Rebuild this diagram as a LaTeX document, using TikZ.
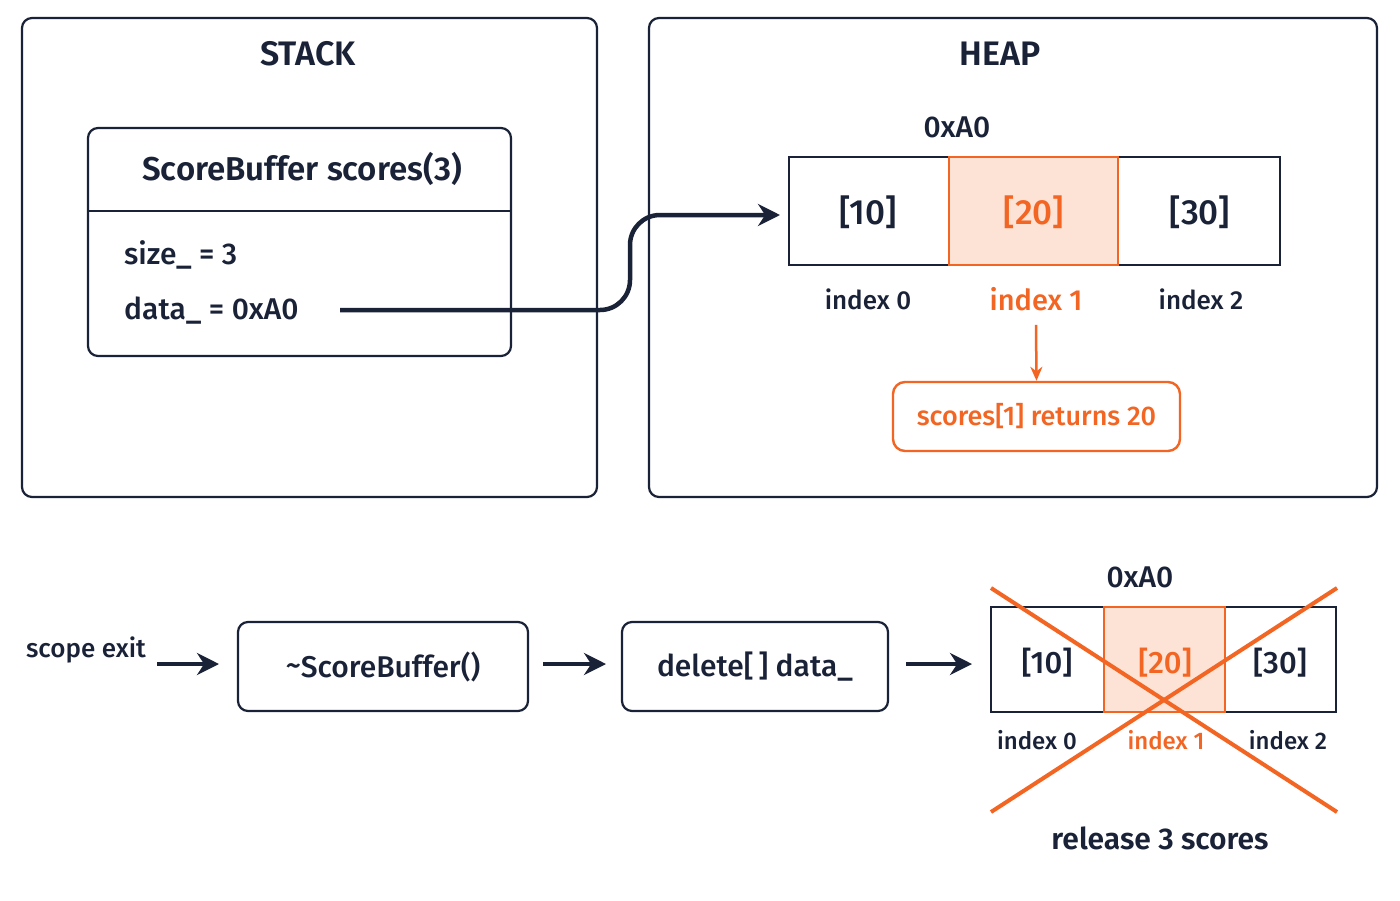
\documentclass[tikz,border=0pt]{standalone}
\usepackage{fontspec}
\setmainfont{Fira Sans}[UprightFont=* Medium, BoldFont=* SemiBold]
\usetikzlibrary{arrows.meta}
\definecolor{navy}{HTML}{1A2238}
\definecolor{org}{HTML}{F26522}
\definecolor{lorg}{HTML}{FDE3D6}
\newcommand{\fs}[1]{\fontsize{#1}{#1}\selectfont}
\begin{document}
\begin{tikzpicture}[x=1pt,y=-1pt,
  box/.style={draw=navy,line width=2.2pt,rounded corners=10pt},
  txt/.style={text=navy,inner sep=0pt},
  arr/.style={-{Stealth[length=22pt,width=22pt]},draw=navy,line width=4.5pt},
  oarr/.style={-{Stealth[length=14pt,width=12pt]},draw=org,line width=2.5pt}]
\useasboundingbox (0,0) rectangle (1400,900);
\fill[white] (0,0) rectangle (1400,900);
% panels
\draw[box] (22,18) rectangle (597,497);
\draw[box] (649,18) rectangle (1377,497);
\node[txt,font=\fs{34}\bfseries] (stack) at (308,54) {STACK};
\node[txt,font=\fs{34}\bfseries] (heap) at (1000,54) {HEAP};
% object
\draw[box] (88,128) rectangle (511,356);
\draw[navy,line width=2.2pt] (88,211) -- (511,211);
\node[txt,font=\fs{33}\bfseries] (title) at (302,169) {ScoreBuffer scores(3)};
\node[txt,font=\fs{30},anchor=west] (size) at (124,255) {size\_ = 3};
\node[txt,font=\fs{30},anchor=west] (data) at (124,311) {data\_ = 0xA0};
% heap array
\draw[navy,line width=2.2pt] (789,157) rectangle (1280,265);
\fill[lorg] (949,157) rectangle (1118,265);
\draw[org,line width=2.2pt] (949,157) rectangle (1118,265);
\node[txt,font=\fs{35}] (c0) at (868,212) {[10]};
\node[txt,font=\fs{35},text=org] (c1) at (1034,212) {[20]};
\node[txt,font=\fs{35}] (c2) at (1200,212) {[30]};
\coordinate (arrin) at (780,215);
\coordinate (arrout) at (340,310);
\node[txt,font=\fs{30}] (addr) at (957,127) {0xA0};
\node[txt,font=\fs{26}] (i0) at (868,299) {index 0};
\node[txt,font=\fs{29},text=org] (i1) at (1036,299) {index 1};
\node[txt,font=\fs{26}] (i2) at (1201,299) {index 2};
\node[draw=org,line width=2.4pt,rounded corners=12pt,minimum width=287pt,minimum height=69pt,text=org,font=\fs{27}] (ret) at (1036.5,416.5) {scores[1] returns 20};
\draw[oarr] (i1.south) ++(0,14) -- (ret.north);
\draw[arr] (arrout) -- (600,310) to[out=0,in=-90] (630,280) -- (630,245) to[out=90,in=180] (660,215) -- (arrin);
% bottom flow
\node[txt,font=\fs{26}] (exit) at (86,650) {scope exit};
\node[box,minimum width=290pt,minimum height=89pt,txt,font=\fs{30}] (dtor) at (383,666.5) {\raisebox{2pt}{\textasciitilde}ScoreBuffer()};
\node[box,minimum width=266pt,minimum height=89pt,txt,font=\fs{30}] (del) at (755,666.5) {delete[\,] data\_};
\coordinate (a1) at (157,664);
\coordinate (a1e) at (219,664);
\coordinate (a2) at (543,664);
\coordinate (a2e) at (606,664);
\coordinate (a3) at (906,664);
\coordinate (a3e) at (972,664);
\draw[arr] (a1) -- (a1e);
\draw[arr] (a2) -- (a2e);
\draw[arr] (a3) -- (a3e);
\draw[navy,line width=2.2pt] (991,607) rectangle (1336,712);
\fill[lorg] (1104,607) rectangle (1225,712);
\draw[org,line width=2.2pt] (1104,607) rectangle (1225,712);
\node[txt,font=\fs{31}] (d0) at (1047,663) {[10]};
\node[txt,font=\fs{31},text=org] (d1) at (1165,663) {[20]};
\node[txt,font=\fs{31}] (d2) at (1280,663) {[30]};
\node[txt,font=\fs{30}] (addr2) at (1140,577) {0xA0};
\node[txt,font=\fs{24}] (j0) at (1037,740) {index 0};
\node[txt,font=\fs{24},text=org] (j1) at (1166,740) {index 1};
\node[txt,font=\fs{24}] (j2) at (1288,740) {index 2};
\draw[org,line width=4pt] (991,588) -- (1337,812);
\draw[org,line width=4pt] (1337,588) -- (991,812);
\node[txt,font=\fs{30}\bfseries] (rel) at (1160,838) {release 3 scores};
\end{tikzpicture}
\end{document}
